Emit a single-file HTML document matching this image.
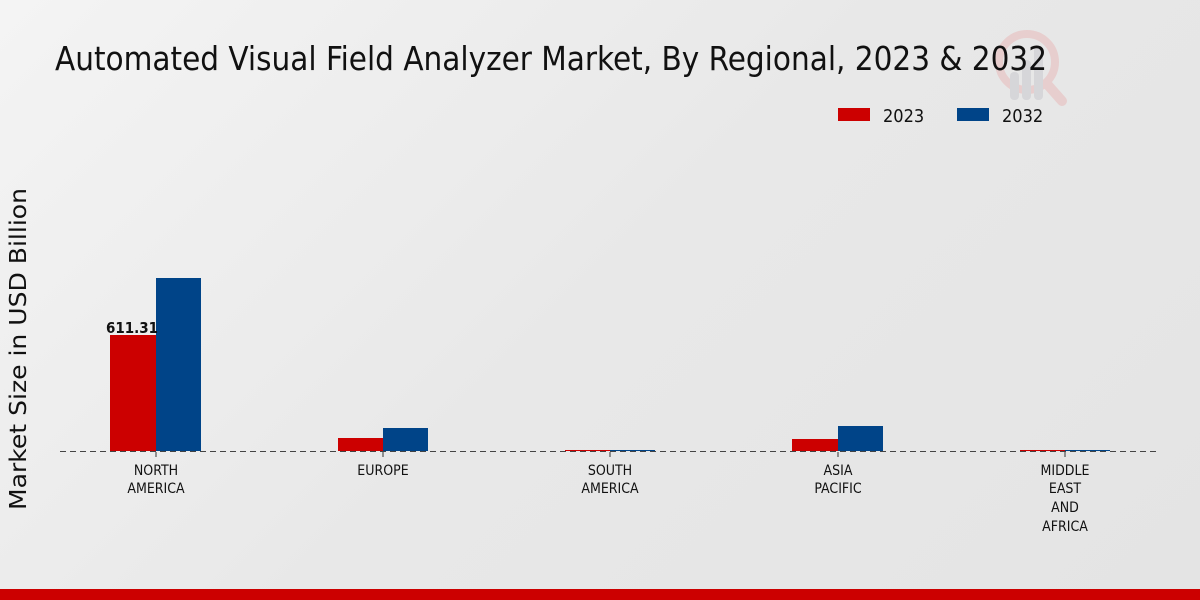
<!DOCTYPE html>
<html><head><meta charset="utf-8"><style>
body{margin:0;width:1200px;height:600px;overflow:hidden;background:linear-gradient(135deg,#f4f4f4 0%,#e8e8e8 50%,#e4e4e4 100%);font-family:"DejaVu Sans Condensed","DejaVu Sans","Liberation Sans",sans-serif;}
</style></head><body>
<svg width="1200" height="600" xmlns="http://www.w3.org/2000/svg" style="position:absolute;left:0;top:0">
<g opacity="0.35">
<circle cx="1027" cy="62" r="28" fill="none" stroke="#e8a0a0" stroke-width="8"/>
<line x1="1047" y1="84" x2="1062" y2="101" stroke="#e8a0a0" stroke-width="10" stroke-linecap="round"/>
<rect x="1010" y="72" width="9" height="28" rx="4" fill="#b8b8c0"/>
<rect x="1022" y="60" width="9" height="40" rx="4" fill="#b8b8c0"/>
<rect x="1034" y="46" width="9" height="54" rx="4" fill="#b8b8c0"/>
</g>
<text x="55" y="70" font-size="33" fill="#111" textLength="992" lengthAdjust="spacingAndGlyphs" style="font-stretch:condensed">Automated Visual Field Analyzer Market, By Regional, 2023 &amp; 2032</text>
<rect x="838" y="108" width="32" height="13" fill="#cc0000"/>
<text x="883" y="122" font-size="18" fill="#111">2023</text>
<rect x="957" y="108" width="32" height="13" fill="#004488"/>
<text x="1002" y="122" font-size="18" fill="#111">2032</text>
<text transform="translate(26,349) rotate(-90)" text-anchor="middle" font-size="23" fill="#111" textLength="322" lengthAdjust="spacingAndGlyphs" font-family="DejaVu Sans,sans-serif">Market Size in USD Billion</text>
<rect x="110" y="335" width="46" height="116" fill="#cc0000"/>
<rect x="156" y="278" width="45" height="173" fill="#004488"/>
<rect x="338" y="438" width="45" height="13" fill="#cc0000"/>
<rect x="383" y="428" width="45" height="23" fill="#004488"/>
<rect x="565" y="450" width="45" height="1" fill="#cc0000"/>
<rect x="610" y="450" width="45" height="1" fill="#004488"/>
<rect x="792" y="439" width="46" height="12" fill="#cc0000"/>
<rect x="838" y="426" width="45" height="25" fill="#004488"/>
<rect x="1020" y="450" width="45" height="1" fill="#cc0000"/>
<rect x="1065" y="450" width="45" height="1" fill="#004488"/>
<text x="132" y="333" text-anchor="middle" font-size="15" font-weight="bold" fill="#111">611.31</text>
<line x1="60" y1="451.5" x2="1158" y2="451.5" stroke="#444" stroke-width="1" stroke-dasharray="6,4"/>
<g stroke="#333"><line x1="156" y1="452" x2="156" y2="457"/><line x1="383" y1="452" x2="383" y2="457"/><line x1="610" y1="452" x2="610" y2="457"/><line x1="838" y1="452" x2="838" y2="457"/><line x1="1065" y1="452" x2="1065" y2="457"/></g>
<g font-size="14" fill="#111" text-anchor="middle" style="font-stretch:condensed">
<text x="156" y="475">NORTH</text><text x="156" y="493">AMERICA</text>
<text x="383" y="475">EUROPE</text>
<text x="610" y="475">SOUTH</text><text x="610" y="493">AMERICA</text>
<text x="838" y="475">ASIA</text><text x="838" y="493">PACIFIC</text>
<text x="1065" y="475">MIDDLE</text><text x="1065" y="493">EAST</text><text x="1065" y="512">AND</text><text x="1065" y="531">AFRICA</text>
</g>
<rect x="0" y="589" width="1200" height="11" fill="#cc0000"/>
</svg>
</body></html>
